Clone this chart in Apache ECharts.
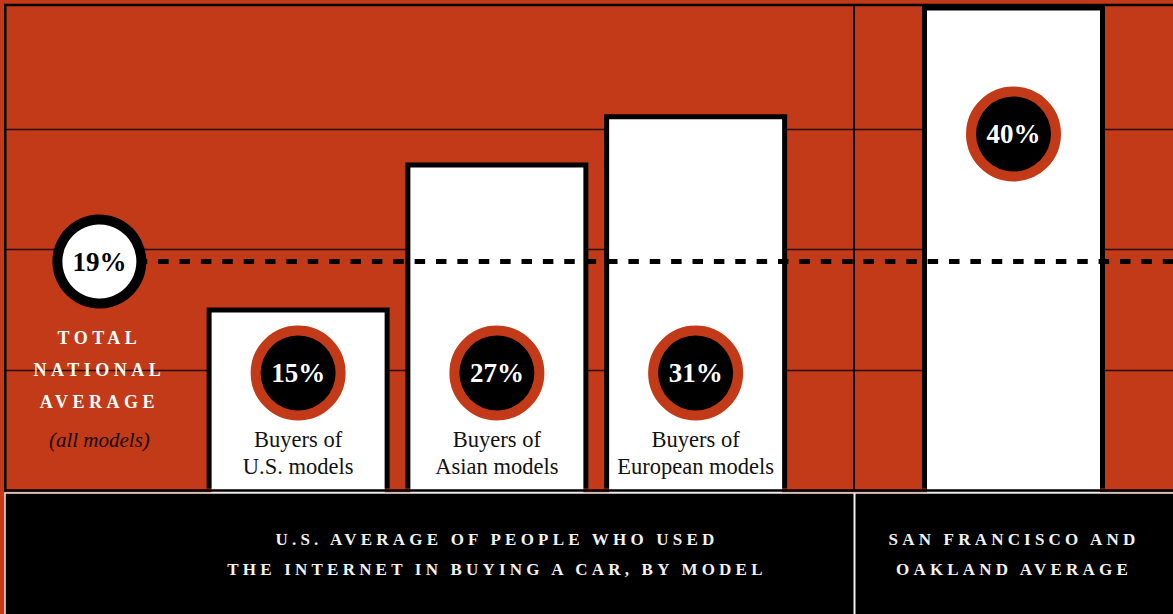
<!DOCTYPE html>
<html>
<head>
<meta charset="utf-8">
<script src="https://cdn.jsdelivr.net/npm/echarts@6/dist/echarts.min.js"></script>
<style>
html,body{margin:0;padding:0;background:#C23A18;}
#chart{width:1173px;height:614px;}
</style>
</head>
<body>
<div id="chart"></div>
<script>
// ---- data ----
const NATIONAL_CATEGORY = ['TOTAL\nNATIONAL\nAVERAGE'];
const NATIONAL_NOTE = '(all models)';
const NATIONAL_VALUE = [19];
const MODEL_CATEGORIES = ['Buyers of\nU.S. models', 'Buyers of\nAsian models', 'Buyers of\nEuropean models'];
const MODEL_VALUES = [15, 27, 31];
const SF_CATEGORIES = ['SAN FRANCISCO AND\nOAKLAND AVERAGE'];
const SF_VALUES = [40];
const Y_MIN = 0, Y_MAX = 40, Y_STEP = 10;
const BAND_CAPTIONS = ['U.S. AVERAGE OF PEOPLE WHO USED\nTHE INTERNET IN BUYING A CAR, BY MODEL', 'SAN FRANCISCO AND\nOAKLAND AVERAGE'];

// ---- style ----
const ORANGE = '#C23A18';
const SERIF = "'Liberation Serif', 'DejaVu Serif', serif";
const BORDER = 5;

const chart = echarts.init(document.getElementById('chart'), null, {renderer: 'svg'});

const richStyles = {
  c: {width: 75, height: 75, lineHeight: 107, align: 'center', backgroundColor: '#000', borderColor: ORANGE, borderWidth: 10, borderRadius: 37.5, color: '#fff', fontSize: 27, fontWeight: 'bold', fontFamily: SERIF},
  t: {align: 'center', color: '#111', fontSize: 22.5, lineHeight: 26.5, fontFamily: SERIF},
  cap: {align: 'center', color: '#fff', fontSize: 18, fontWeight: 'bold', lineHeight: 32, fontFamily: SERIF},
  it: {align: 'center', color: '#140600', fontSize: 21, fontStyle: 'italic', lineHeight: 44, fontFamily: SERIF}
};

const catsA = NATIONAL_CATEGORY.concat(MODEL_CATEGORIES);
const ghost = {color: 'rgba(0,0,0,0)', borderWidth: 0};

// outline (black) bars and fill (white) bars: fill grid is shifted down by BORDER px
const outlineDataA = [{value: NATIONAL_VALUE[0], itemStyle: ghost}].concat(MODEL_VALUES);
const fillDataA = [{value: NATIONAL_VALUE[0], itemStyle: ghost, label: {distance: 31.5}}].concat(MODEL_VALUES);

function labelA(p) {
  if (p.dataIndex === 0) {
    return p.name.split('\n').map(s => '{cap|' + s + '}').join('\n') + '\n{it|' + NATIONAL_NOTE + '}';
  }
  return '{c|' + p.value + '%}\n' + p.name.split('\n').map(s => '{t|' + s + '}').join('\n');
}

const hiddenCat = (idx, data) => ({type: 'category', gridIndex: idx, data: data, show: false});
const hiddenVal = (idx) => ({type: 'value', gridIndex: idx, min: Y_MIN, max: Y_MAX, interval: Y_STEP, show: false});
const gridA = (top, bottom) => ({left: -2, right: 378, top: top, bottom: bottom});
const gridB = (top, bottom) => ({left: 854, right: 0, top: top, bottom: bottom});

chart.setOption({
  animation: false,
  backgroundColor: ORANGE,
  grid: [
    gridA(5.5, 125.5),                              // 0: outline bars A
    gridB(5.5, 125.5),                              // 1: outline bar SF (+ divider axis)
    {left: 96, right: 0, top: 8, bottom: 123},      // 2: dashed average line
    {left: 6, right: 0, top: 8, bottom: 123},       // 3: gridlines
    gridA(10.5, 120.5),                             // 4: fill bars A
    gridB(10.5, 120.5),                             // 5: fill bar SF
    gridA(8, 123)                                   // 6: national average marker
  ],
  xAxis: [
    hiddenCat(0, catsA),
    hiddenCat(1, SF_CATEGORIES),
    {type: 'value', gridIndex: 2, min: 0, max: 1, show: false},
    {type: 'value', gridIndex: 3, min: 0, max: 1, show: false},
    hiddenCat(4, catsA),
    hiddenCat(5, SF_CATEGORIES),
    hiddenCat(6, catsA)
  ],
  yAxis: [
    hiddenVal(0),
    {type: 'value', gridIndex: 1, min: Y_MIN, max: Y_MAX, interval: Y_STEP,
      axisLine: {show: true, lineStyle: {color: '#000', width: 2}},
      axisTick: {show: false}, axisLabel: {show: false}, splitLine: {show: false}},
    hiddenVal(2),
    {type: 'value', gridIndex: 3, min: Y_MIN, max: Y_MAX, interval: Y_STEP,
      axisLine: {show: false}, axisTick: {show: false}, axisLabel: {show: false},
      splitLine: {show: true, showMinLine: false, showMaxLine: false, lineStyle: {color: '#2a0800', width: 1.3}}},
    hiddenVal(4),
    hiddenVal(5),
    hiddenVal(6)
  ],
  title: [
    {text: BAND_CAPTIONS[0], left: 497, top: 524, textAlign: 'center', padding: 0, z: 60,
      textStyle: {color: '#f2f2f2', fontSize: 17, fontWeight: 'bold', fontFamily: SERIF, lineHeight: 30}},
    {text: BAND_CAPTIONS[1], left: 1014, top: 524, textAlign: 'center', padding: 0, z: 60,
      textStyle: {color: '#f2f2f2', fontSize: 17, fontWeight: 'bold', fontFamily: SERIF, lineHeight: 30}}
  ],
  graphic: [
    {type: 'rect', z: 50, silent: true, shape: {x: 5.25, y: 5, width: 1200, height: 485.5},
      style: {fill: 'none', stroke: '#000', lineWidth: 2.5}},
    {type: 'rect', z: 50, silent: true, shape: {x: 5, y: 493, width: 1200, height: 200},
      style: {fill: '#000', stroke: '#e8e8e8', lineWidth: 1.5}},
    {type: 'line', z: 51, silent: true, shape: {x1: 854.5, y1: 493, x2: 854.5, y2: 614},
      style: {stroke: '#eeeeee', lineWidth: 2}}
  ],
  series: [
    {
      type: 'bar', xAxisIndex: 0, yAxisIndex: 0, z: 2, barWidth: 183,
      data: outlineDataA, itemStyle: {color: '#000'},
      emphasis: {disabled: true}, silent: true
    },
    {
      type: 'bar', xAxisIndex: 1, yAxisIndex: 1, z: 2, barWidth: 183,
      data: SF_VALUES, itemStyle: {color: '#000'},
      emphasis: {disabled: true}, silent: true
    },
    {
      type: 'bar', xAxisIndex: 4, yAxisIndex: 4, z: 3, barWidth: 183 - 2 * BORDER,
      data: fillDataA, itemStyle: {color: '#fff'},
      label: {show: true, position: 'insideBottom', distance: 14, formatter: labelA, rich: richStyles},
      emphasis: {disabled: true}, silent: true
    },
    {
      type: 'bar', xAxisIndex: 5, yAxisIndex: 5, z: 3, barWidth: 183 - 2 * BORDER,
      data: SF_VALUES, itemStyle: {color: '#fff'},
      label: {show: true, position: 'insideTop', distance: 70, formatter: '{c|{c}%}', rich: richStyles},
      emphasis: {disabled: true}, silent: true
    },
    {
      type: 'line', xAxisIndex: 2, yAxisIndex: 2, z: 4, data: [], silent: true,
      markLine: {
        silent: true, z: 4, symbol: ['none', 'none'], label: {show: false},
        lineStyle: {color: '#000', width: 5, type: [10.5, 10.875], dashOffset: 1.6},
        emphasis: {disabled: true},
        data: [{yAxis: NATIONAL_VALUE[0]}]
      }
    },
    {
      type: 'scatter', xAxisIndex: 6, yAxisIndex: 6, z: 20, silent: true,
      data: NATIONAL_VALUE,
      symbol: 'circle', symbolSize: 84,
      itemStyle: {color: '#fff', borderColor: '#000', borderWidth: 10, opacity: 1},
      label: {show: true, position: 'inside', formatter: '{c}%', color: '#000', fontSize: 27, fontWeight: 'bold', fontFamily: SERIF},
      emphasis: {disabled: true}
    }
  ]
});

function applySpacing() {
  document.querySelectorAll('#chart text').forEach(t => {
    const s = (t.textContent || '').trim();
    if (s.length > 3 && /^[A-Z][A-Z .,]+$/.test(s)) {
      const cap = ['TOTAL', 'NATIONAL', 'AVERAGE'].indexOf(s) >= 0;
      t.style.letterSpacing = cap ? '4.5px' : '4.2px';
    }
  });
}
applySpacing();
chart.on('finished', applySpacing);
setTimeout(applySpacing, 50);
</script>
</body>
</html>
